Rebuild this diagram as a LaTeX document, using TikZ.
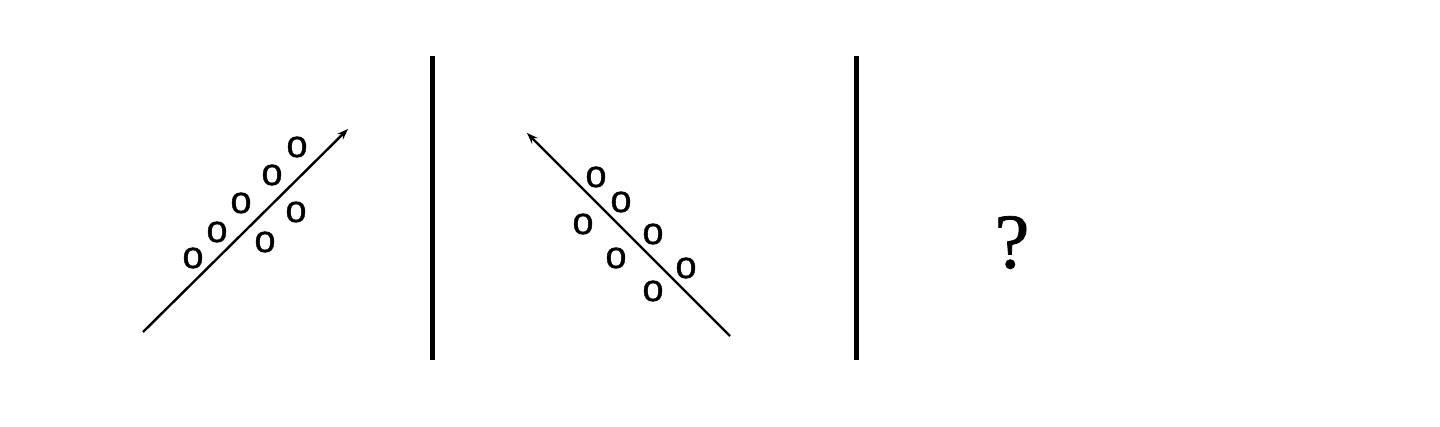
\documentclass[tikz,border=0pt]{standalone}
\usepackage{fontspec}
\setmainfont{Liberation Serif}
\newfontfamily\letterfont[FakeBold=1]{Liberation Sans}
\newfontfamily\askfont[FakeBold=1]{Liberation Serif}
\usetikzlibrary{%
	arrows.meta,%
	positioning,%
}
\tikzset{
	>={Stealth[length=11pt, width=8pt]},%
	letter/.style={%
			inner sep=0,%
			font={\letterfont\fontsize{38}{38}\selectfont}},%
	axis/.style={%
			->,%
			line width=2.4pt},%
	divider/.style={%
			line width=5pt},%
	query/.style={%
			inner sep=0,%
			font={\askfont\fontsize{78}{78}\selectfont}},%
}

\begin{document}
\begin{tikzpicture}[x=1pt, y=-1pt]%
	\useasboundingbox (0,0) rectangle (1440,426);

	% first panel
	\coordinate (ltail) at (143,332);
	\coordinate (lhead) at (348,129);
	\draw[axis] (ltail) to (lhead);
	\foreach \px/\py [count=\i] in {193/258, 217/232, 241/203, 272/175, 297/147, 265/242, 296/212} {
		\node[letter] (lo\i) at (\px,\py) {o};
	}

	% dividers
	\coordinate (atop) at (432.5,56);
	\coordinate (abot) at (432.5,360);
	\draw[divider] (atop) to (abot);
	\coordinate (btop) at (856.5,56);
	\coordinate (bbot) at (856.5,360);
	\draw[divider] (btop) to (bbot);

	% second panel
	\coordinate (rtail) at (730,336);
	\coordinate (rhead) at (527,133);
	\draw[axis] (rtail) to (rhead);
	\foreach \px/\py [count=\i] in {596/177, 621/202, 583/224, 653/234, 616/258, 686/268, 653/291} {
		\node[letter] (ro\i) at (\px,\py) {o};
	}

	% third panel
	\node[query] (ask) at (1012,242.5) {?};
\end{tikzpicture}
\end{document}
